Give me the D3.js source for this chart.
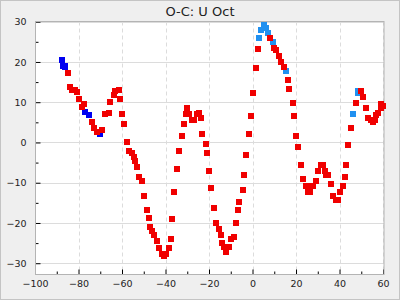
<!DOCTYPE html>
<html>
<head>
<meta charset="utf-8">
<script src="https://cdn.jsdelivr.net/npm/d3@7"></script>
<style>
  html, body { margin: 0; padding: 0; background: #efefef; }
  svg { display: block; font-family: "DejaVu Sans", sans-serif; }
</style>
</head>
<body>
<svg id="canvas" width="400" height="300"></svg>
<script>
// Datos: O-C de U Oct (tres series)
const rojoX = [-84.6, -83.7, -82.8, -81.8, -80.9, -80.0, -78.6, -77.7, -74.0, -73.1, -71.7, -69.0, -67.6, -66.2, -65.3, -63.9, -63.0, -61.6, -60.7, -59.8, -58.9, -57.9,
  -57.0, -55.6, -54.7, -53.8, -52.9, -52.0, -50.6, -49.7, -48.7, -47.8, -46.9, -46.0, -45.1, -43.7, -42.8, -41.8, -40.9, -40.0, -38.6, -37.7, -36.8, -35.9, -34.9, -34.0,
  -32.6, -31.7, -30.8, -29.9, -29.0, -27.6, -26.7, -25.7, -24.8, -23.9, -23.0, -21.6, -20.7, -19.8, -18.9, -17.9, -17.0, -15.6, -14.7, -13.8, -12.9, -12.0, -11.0,
  -9.7, -8.7, -7.8, -6.9, -6.0, -4.6, -3.7, -2.8, -1.8, -0.9, 0.0, 1.4, 2.3, 8.1, 10.1, 11.0, 12.0, 13.3, 14.3, 16.1, 17.0, 18.4, 19.3, 20.2,
  21.1, 22.1, 23.0, 24.4, 25.3, 26.2, 27.1, 28.0, 29.0, 30.3, 31.3, 32.2, 33.1, 34.0, 34.9, 36.3, 37.2, 38.2, 39.1, 40.0, 41.4, 42.3, 43.2, 44.1, 45.1,
  47.4, 50.1, 51.0, 52.0, 53.3, 54.3, 55.2, 56.1, 57.0, 57.9, 58.9, 59.3, 60.2];
const rojoY = [17.2, 13.9, 13.0, 13.0, 12.5, 10.9, 8.7, 9.5, 5.0, 3.5, 2.5, 3.0, 7.0, 7.2, 10.0, 11.7, 12.8, 13.0, 10.9, 7.0, 4.5, 0.0,
  -2.0, -2.5, -3.7, -4.7, -6.2, -8.5, -9.6, -13.2, -16.7, -18.7, -20.9, -22.1, -22.9, -24.6, -26.1, -27.6, -28.1, -27.6, -26.1, -23.9, -18.9, -12.2, -6.5, -2.0,
  1.5, 4.7, 7.0, 8.5, 7.0, 5.5, 5.7, 7.0, 7.2, 6.2, 2.2, -0.5, -2.7, -7.2, -11.4, -16.2, -19.9, -21.4, -22.9, -24.9, -25.9, -27.1, -25.9,
  -24.1, -23.4, -20.1, -16.9, -14.9, -11.9, -8.0, -3.2, 2.0, 6.5, 12.4, 18.4, 23.1, 25.9, 23.4, 22.9, 21.4, 20.1, 18.7, 15.4, 13.2, 9.7, 6.5, 1.7,
  -1.2, -5.5, -9.0, -10.9, -12.2, -12.2, -10.7, -10.9, -9.5, -7.0, -5.5, -5.5, -7.0, -8.0, -8.2, -10.2, -13.4, -14.2, -14.2, -12.4, -10.9, -8.7, -5.7, -0.6, 3.7,
  9.7, 12.9, 11.2, 8.5, 6.2, 5.7, 5.2, 5.7, 6.7, 7.2, 8.5, 9.5, 9.0];

const azulX = [-87.4, -86.9, -86.0, -86.4, -76.8, -75.4, -70.3];
const azulY = [20.6, 19.1, 19.1, 18.8, 7.5, 6.7, 2.0];

const celesteX = [3.2, 4.1, 5.1, 6.0, 7.2, 9.2, 15.2, 46.0, 48.3, 48.7];
const celesteY = [25.9, 27.9, 29.1, 28.5, 27.1, 24.9, 17.7, 7.0, 12.4, 12.9];

const ticksX = [-100, -80, -60, -40, -20, 0, 20, 40, 60];
const ticksY = [-30, -20, -10, 0, 10, 20, 30];
const menoresX = [-90, -70, -50, -30, -10, 10, 30, 50];
const menoresY = [-25, -15, -5, 5, 15, 25];

const svg = d3.select("#canvas");
const ancho = 400;
const alto = 300;

// Marco exterior
svg.append("rect")
    .attr("x", 0.5).attr("y", 0.5)
    .attr("width", ancho - 1).attr("height", alto - 1)
    .attr("fill", "#efefef")
    .attr("stroke", "#c4c4c4");

const izq = 35.5, der = 384, arriba = 21.5, abajo = 274.5;

const x = d3.scaleLinear().domain([-100, 60.45]).range([35, 384]);
const y = d3.scaleLinear().domain([-32.8, 30]).range([274.5, 21.7]);

// Area del grafico
svg.append("rect")
    .attr("x", izq).attr("y", arriba)
    .attr("width", der - izq).attr("height", abajo - arriba)
    .attr("fill", "#ffffff");

// Rejilla horizontal (continua)
svg.append("g").selectAll("line")
    .data(ticksY)
    .enter().append("line")
    .attr("x1", izq).attr("x2", der)
    .attr("y1", d => Math.round(y(d)) + 0.5)
    .attr("y2", d => Math.round(y(d)) + 0.5)
    .attr("stroke", "#dcdcdc");

// Rejilla vertical (discontinua)
svg.append("g").selectAll("line")
    .data(ticksX)
    .enter().append("line")
    .attr("x1", d => Math.round(x(d)) + 0.5)
    .attr("x2", d => Math.round(x(d)) + 0.5)
    .attr("y1", arriba).attr("y2", abajo)
    .attr("stroke", "#dcdcdc")
    .attr("stroke-dasharray", "4,3");

// Ejes con marcas hacia dentro
const ejeX = svg.append("g").attr("transform", `translate(0,${abajo})`);
ejeX.call(d3.axisBottom(x).tickValues(ticksX).tickSize(-5).tickPadding(6).tickFormat(d3.format("d")));
ejeX.append("g").call(d3.axisBottom(x).tickValues(menoresX).tickSize(-3).tickFormat(""));

const ejeY = svg.append("g").attr("transform", `translate(${izq},0)`);
ejeY.call(d3.axisLeft(y).tickValues(ticksY).tickSize(-5).tickPadding(9).tickFormat(d3.format("d")));
ejeY.append("g").call(d3.axisLeft(y).tickValues(menoresY).tickSize(-3).tickFormat(""));

svg.selectAll(".domain").remove();
svg.selectAll(".tick line").attr("stroke", "#000");
svg.selectAll(".tick text")
    .attr("fill", "#222")
    .style("font-size", "9.5px")
    .style("font-family", "'DejaVu Sans', sans-serif");

// Borde del area
svg.append("rect")
    .attr("x", izq).attr("y", arriba)
    .attr("width", der - izq).attr("height", abajo - arriba)
    .attr("fill", "none")
    .attr("stroke", "#b4b4b4");

// Puntos: primero azules, luego rojos encima
const series = [
    { xs: azulX, ys: azulY, color: "#0000f0" },
    { xs: celesteX, ys: celesteY, color: "#2090f0" },
    { xs: rojoX, ys: rojoY, color: "#f00000" }
];
const lado = 6;
series.forEach(s => {
    svg.append("g").selectAll("rect")
        .data(s.xs.map((v, i) => [v, s.ys[i]]))
        .enter().append("rect")
        .attr("x", d => x(d[0]) - lado / 2)
        .attr("y", d => y(d[1]) - lado / 2)
        .attr("width", lado).attr("height", lado)
        .attr("fill", s.color)
        .attr("shape-rendering", "crispEdges");
});

// Titulo
svg.append("text")
    .attr("x", 200).attr("y", 16)
    .attr("text-anchor", "middle")
    .attr("fill", "#222")
    .style("font-size", "13px")
    .text("O-C: U Oct");
</script>
</body>
</html>
